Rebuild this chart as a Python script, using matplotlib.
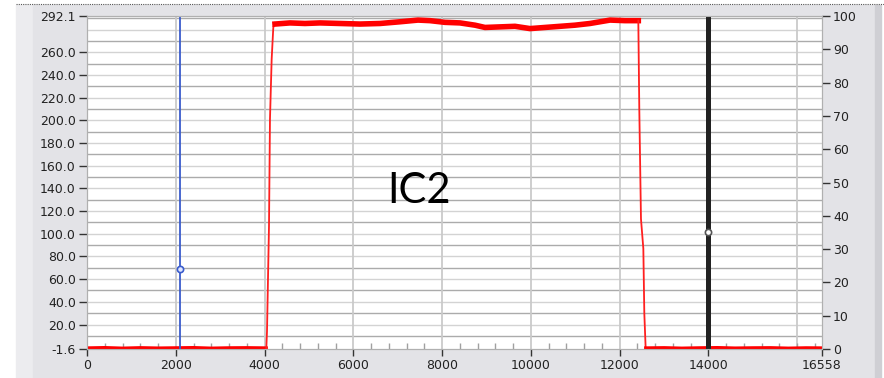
import matplotlib
matplotlib.use('Agg')
import matplotlib.pyplot as plt
from matplotlib.patches import Rectangle
from matplotlib.lines import Line2D

# IC2 trace, values
t_base1 = [0, 400, 800, 1200, 1600, 2000, 2400, 2800, 3200, 3600, 4040]
y_base1 = [-0.6, -0.3, -0.8, -0.4, -0.7, -0.5, -0.3, -0.8, -0.5, -0.4, -0.6]
t_rise = [4040, 4055, 4100, 4122, 4160, 4197, 4235]
y_rise = [-0.6, 14, 107, 201, 254, 282, 286]
t_plat = [4235, 4573, 4911, 5249, 5700, 6150, 6601, 7051, 7457, 7727, 8065, 8403,
          8741, 8966, 9304, 9642, 9980, 10318, 10656, 10993, 11331, 11557, 11782,
          12120, 12420]
y_plat = [285, 286, 285.5, 286, 285.5, 285, 285.5, 287, 288.5, 288, 286.5, 286,
          284, 282, 282.5, 283, 281, 282, 283, 284, 285.5, 287, 288.5, 288, 288]
t_fall = [12420, 12442, 12480, 12533, 12555, 12585]
y_fall = [288, 210, 113, 87, 30, -0.6]
t_base2 = [12585, 13000, 13400, 13800, 14200, 14600, 15000, 15400, 15800, 16200, 16558]
y_base2 = [-0.6, -0.4, -0.8, -0.5, -0.3, -0.7, -0.5, -0.4, -0.8, -0.5, -0.6]

cursor_blue = (2095, 69)
cursor_black = (13990, 101.6)

x_ticks = [0, 2000, 4000, 6000, 8000, 10000, 12000, 14000, 16558]
y_ticks = [-1.6, 20, 40, 60, 80, 100, 120, 140, 160, 180, 200, 220, 240, 260, 292.1]
y2_ticks = [0, 10, 20, 30, 40, 50, 60, 70, 80, 90, 100]

fig = plt.figure(figsize=(8.84, 3.78), dpi=100)
fig.patch.set_facecolor('white')
W, H = 884.0, 378.0
# panel background like the screenshot
fig.patches.append(Rectangle((16/W, 0), (33-16)/W, (H-5)/H, transform=fig.transFigure,
                             color='#ececef', zorder=-10))
fig.patches.append(Rectangle((33/W, 0), (875-33)/W, (H-5)/H, transform=fig.transFigure,
                             color='#e3e3e7', zorder=-10))
fig.patches.append(Rectangle((875/W, 0), 6/W, (H-5)/H, transform=fig.transFigure,
                             color='#cfcfd4', zorder=-10))
fig.lines.append(Line2D([16/W, 1], [1-4/H, 1-4/H], transform=fig.transFigure,
                        color='#555555', lw=0.8, ls=(0, (1, 1))))

ax = fig.add_axes([87/W, 1-349/H, (822-87)/W, (349-16)/H])
ax.set_facecolor('white')
ax.set_xlim(0, 16558)
ax.set_ylim(-1.6, 292.1)

# grid
for v in range(10, 300, 10):
    c = '#ababab' if (v // 10) % 2 == 1 else '#d3d3d3'
    ax.axhline(v, color=c, lw=1.0, zorder=1)
for v in range(2000, 16001, 2000):
    ax.axvline(v, color='#cacaca', lw=1.3, zorder=1)

# red trace
ax.plot(t_base1, y_base1, color='#ff0000', lw=2.2, zorder=3)
ax.plot(t_rise, y_rise, color='#ff2020', lw=1.3, zorder=3)
ax.plot(t_plat, y_plat, color='#ff0000', lw=4.0, zorder=3)
ax.plot(t_fall, y_fall, color='#ff2020', lw=1.3, zorder=3)
ax.plot(t_base2, y_base2, color='#ff0000', lw=2.2, zorder=3)

# cursors
ax.axvline(cursor_blue[0], color='#3a5ccc', lw=1.3, zorder=4)
ax.plot(*cursor_blue, 'o', ms=4.5, mfc='#dfe6ff', mec='#3a5ccc', mew=1.2, zorder=5)
ax.axvline(cursor_black[0], color='#222222', lw=3.6, zorder=4)
ax.plot(*cursor_black, 'o', ms=4.5, mfc='white', mec='#555555', mew=1.2, zorder=5)

ax.text(7479, 127, 'IC2', fontsize=30, family=['Lato', 'DejaVu Sans'],
        ha='center', va='baseline', color='black', zorder=6)

ax.set_xticks(x_ticks)
ax.set_xticklabels([str(v) for v in x_ticks])
ax.set_xticks(range(400, 16558, 400), minor=True)
ax.set_yticks(y_ticks)
ax.set_yticklabels(['%.1f' % v for v in y_ticks])
ax.tick_params(axis='x', which='major', direction='out', length=5, width=1,
               color='#333333', labelsize=9, labelcolor='#222222', pad=2)
ax.tick_params(axis='x', which='minor', direction='in', length=4, width=1,
               color='#a0a0a0')
ax.tick_params(axis='y', direction='out', length=6, width=1, color='#333333',
               labelsize=9, labelcolor='#222222', pad=2)
for s in ax.spines.values():
    s.set_color('#b0b0b0')

ax2 = ax.twinx()
ax2.set_ylim(0, 100)
ax2.set_yticks(y2_ticks)
ax2.set_yticklabels([str(v) for v in y2_ticks])
ax2.tick_params(axis='y', direction='out', length=6, width=1, color='#333333',
                labelsize=9, labelcolor='#222222', pad=2)
for s in ax2.spines.values():
    s.set_color('#b0b0b0')

fig.savefig('out.png', dpi=100)
